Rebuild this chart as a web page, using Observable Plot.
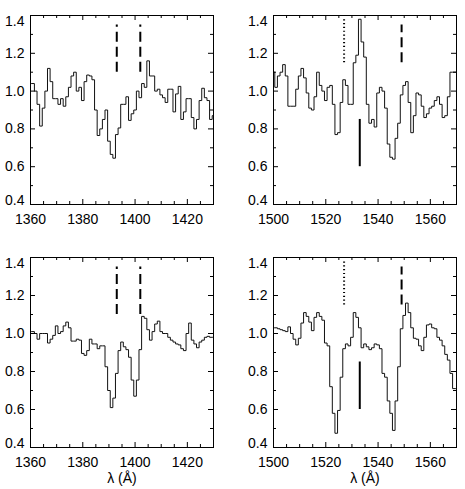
<!DOCTYPE html>
<html><head><meta charset="utf-8">
<script src="https://cdn.jsdelivr.net/npm/d3@7"></script>
<script src="https://cdn.jsdelivr.net/npm/@observablehq/plot@0.6"></script>
<style>
body{margin:0;background:#fff;}
#chart{position:relative;width:465px;height:489px;background:#fff;overflow:hidden;}
.panel{position:absolute;}
.panel svg{max-width:none !important;display:block;}
</style></head><body><div id="chart"></div>
<script>
// Wavelength grids (Å)
const lamSi = [1360,1361,1362,1363,1364,1365,1366,1367,1368,1369,1370,1371,1372,1373,1374,1375,1376,1377,1378,1379,1380,1381,1382,1383,1384,1385,1386,1387,1388,1389,1390,1391,1392,1393,1394,1395,1396,1397,1398,1399,1400,1401,1402,1403,1404,1405,1406,1407,1408,1409,1410,1411,1412,1413,1414,1415,1416,1417,1418,1419,1420,1421,1422,1423,1424,1425,1426,1427,1428,1429,1430];
const lamC = [1500,1501,1502,1503,1504,1505,1506,1507,1508,1509,1510,1511,1512,1513,1514,1515,1516,1517,1518,1519,1520,1521,1522,1523,1524,1525,1526,1527,1528,1529,1530,1531,1532,1533,1534,1535,1536,1537,1538,1539,1540,1541,1542,1543,1544,1545,1546,1547,1548,1549,1550,1551,1552,1553,1554,1555,1556,1557,1558,1559,1560,1561,1562,1563,1564,1565,1566,1567,1568,1569,1570];

// Normalised flux, top row
const fluxSiTop = [1.04,1.04,1.00,0.93,0.815,0.91,1.00,1.12,1.05,0.96,0.96,0.93,0.96,0.92,0.97,1.02,1.08,1.10,1.00,1.02,0.95,1.05,1.085,1.08,1.06,0.90,0.765,0.80,0.85,0.90,0.735,0.665,0.645,0.77,0.805,0.93,0.93,0.97,0.845,0.88,0.90,1.00,0.965,1.04,1.02,1.16,1.08,1.08,1.00,1.01,0.98,0.965,0.94,1.01,1.01,0.89,0.985,1.025,0.85,0.89,0.96,0.96,0.86,0.80,0.85,0.95,1.015,0.965,0.95,0.85,0.87];
const fluxCTop = [1.10,1.02,1.08,1.10,1.14,1.08,0.92,0.92,0.92,1.01,1.08,1.12,1.07,0.99,0.91,0.90,0.97,1.10,1.03,1.00,0.95,1.02,1.03,0.93,0.77,0.78,0.94,1.06,1.03,0.93,0.93,1.15,1.19,1.38,1.26,1.18,0.93,0.83,0.85,0.81,0.99,1.02,1.00,0.91,0.72,0.65,0.64,0.75,0.83,0.98,1.03,1.05,0.94,0.78,0.87,0.99,0.98,0.92,0.86,0.88,0.91,0.92,0.95,0.97,0.93,0.86,0.87,0.97,1.10,1.10,1.10];
// Normalised flux, bottom row
const fluxSiBot = [1.01,1.01,1.00,0.97,1.00,1.00,1.00,0.95,0.97,0.99,1.04,1.00,1.01,1.04,1.06,1.03,0.96,0.96,0.97,0.965,0.895,0.885,0.91,0.97,0.945,0.945,0.92,0.935,0.935,0.825,0.70,0.61,0.66,0.79,0.91,0.955,0.93,0.915,0.875,0.755,0.67,0.755,0.915,1.09,1.08,1.02,0.965,1.01,1.05,1.065,1.01,1.00,1.00,0.98,0.965,0.955,0.945,0.94,0.92,0.91,1.00,1.055,0.965,0.945,0.925,0.955,0.965,0.98,0.985,0.98,0.98];
const fluxCBot = [1.03,1.03,1.025,1.02,1.015,1.01,1.035,1.00,0.97,0.94,0.975,1.055,1.11,1.09,1.06,1.015,1.085,1.11,1.09,1.07,0.95,0.935,0.72,0.58,0.475,0.595,0.77,0.92,0.945,0.935,0.98,1.11,1.085,1.03,0.925,0.945,0.93,0.915,0.925,0.945,0.94,0.92,0.79,0.77,0.645,0.58,0.49,0.645,0.825,1.025,1.095,1.16,1.11,1.03,0.975,0.97,0.935,0.91,0.98,1.045,1.05,1.03,1.025,0.98,0.965,0.935,0.89,0.86,0.79,0.71,0.71];

// Axis domains and ticks
const xDomainSi = [1360, 1430];
const xDomainC = [1500, 1570];
const xMajorSi = [1360, 1380, 1400, 1420];
const xMajorC = [1500, 1520, 1540, 1560];
const xMinorSi = [1365,1370,1375,1385,1390,1395,1405,1410,1415,1425];
const xMinorC = [1505,1510,1515,1525,1530,1535,1545,1550,1555,1565];
const yDomain = [0.4, 1.4];
const yMajor = [0.4, 0.6, 0.8, 1.0, 1.2, 1.4];
const yMinor = [0.5, 0.7, 0.9, 1.1, 1.3];
const xLabel = "λ (Å)";

// Line markers
const siDashed = [1393, 1402];
const siDashedRange = [1.10, 1.35];
const cDotted = [1527];
const cDottedRange = [1.15, 1.39];
const cDashed = [1549];
const cDashedRange = [1.15, 1.35];
const cSolid = [1533];
const cSolidRange = [0.60, 0.85];

const FONT = "'Liberation Sans', Arial, Helvetica, sans-serif";

function panel(o) {
  const W = o.width, mL = 30, mR = o.marginRight, mT = 15;
  const pw = W - mL - mR;
  const ph = o.height - mT - o.marginBottom;
  const data = o.lam.map((x, i) => ({x, y: o.flux[i]}));
  const marks = [
    Plot.line(data, {x: "x", y: "y", curve: "step", stroke: "#111", strokeWidth: 1, clip: true}),
    // inward ticks on all four sides
    Plot.ruleX(o.xMajor, {insetTop: ph - 5, stroke: "#000"}),
    Plot.ruleX(o.xMajor, {insetBottom: ph - 5, stroke: "#000"}),
    Plot.ruleX(o.xMinor, {insetTop: ph - 3, stroke: "#000"}),
    Plot.ruleX(o.xMinor, {insetBottom: ph - 3, stroke: "#000"}),
    Plot.ruleY(yMajor, {insetRight: pw - 5, stroke: "#000"}),
    Plot.ruleY(yMajor, {insetLeft: pw - 5, stroke: "#000"}),
    Plot.ruleY(yMinor, {insetRight: pw - 3, stroke: "#000"}),
    Plot.ruleY(yMinor, {insetLeft: pw - 3, stroke: "#000"}),
    Plot.frame({stroke: "#000"}),
    Plot.axisX({ticks: o.xMajor, tickSize: 0, tickPadding: 10, tickFormat: d => String(d), fontSize: 14, fill: "#000", label: null}),
    Plot.axisY({ticks: [0.6, 0.8, 1.0, 1.2], tickSize: 0, tickPadding: 6, tickFormat: d3.format(".1f"), fontSize: 14, fill: "#000", label: null}),
    Plot.axisY({ticks: [1.4], tickSize: 0, tickPadding: 6, dy: 6, tickFormat: d3.format(".1f"), fontSize: 14, fill: "#000", label: null}),
    Plot.axisY({ticks: [0.4], tickSize: 0, tickPadding: 6, dy: -4, tickFormat: d3.format(".1f"), fontSize: 14, fill: "#000", label: null})
  ];
  for (const m of o.markers) {
    marks.push(Plot.ruleX(m.at, {y1: m.range[0], y2: m.range[1], stroke: "#000", strokeWidth: m.width, strokeDasharray: m.dash}));
  }
  if (o.showLabel) {
    marks.push(Plot.text([xLabel], {frameAnchor: "bottom", dy: 31, lineAnchor: "middle", fontSize: 14, fill: "#000"}));
  }
  const svg = Plot.plot({
    width: W, height: o.height,
    marginLeft: mL, marginRight: mR, marginTop: mT, marginBottom: o.marginBottom,
    x: {domain: o.xDomain, label: null},
    y: {domain: yDomain, label: null},
    style: {fontFamily: FONT, fontSize: "14px", color: "#000", background: "transparent"},
    marks
  });
  const wrap = document.createElement("div");
  wrap.className = "panel";
  wrap.style.left = o.left + "px";
  wrap.style.top = o.top + "px";
  wrap.style.width = W + "px";
  wrap.style.height = o.height + "px";
  wrap.appendChild(svg);
  document.getElementById("chart").appendChild(wrap);
}

const siMarkers = [{at: siDashed, range: siDashedRange, width: 2, dash: "10,5"}];
const cMarkers = [
  {at: cDotted, range: cDottedRange, width: 2, dash: "1.2,2.6"},
  {at: cDashed, range: cDashedRange, width: 2, dash: "10,5"},
  {at: cSolid, range: cSolidRange, width: 2, dash: null}
];

panel({lam: lamSi, flux: fluxSiTop, xDomain: xDomainSi, xMajor: xMajorSi, xMinor: xMinorSi, markers: siMarkers, left: 0, top: 0, width: 232, marginRight: 19, height: 240, marginBottom: 36, showLabel: false});
panel({lam: lamC, flux: fluxCTop, xDomain: xDomainC, xMajor: xMajorC, xMinor: xMinorC, markers: cMarkers, left: 243, top: 0, width: 222, marginRight: 9, height: 240, marginBottom: 36, showLabel: false});
panel({lam: lamSi, flux: fluxSiBot, xDomain: xDomainSi, xMajor: xMajorSi, xMinor: xMinorSi, markers: siMarkers, left: 0, top: 242, width: 232, marginRight: 19, height: 247, marginBottom: 42, showLabel: true});
panel({lam: lamC, flux: fluxCBot, xDomain: xDomainC, xMajor: xMajorC, xMinor: xMinorC, markers: cMarkers, left: 243, top: 242, width: 222, marginRight: 9, height: 247, marginBottom: 42, showLabel: true});
</script>
</body></html>
